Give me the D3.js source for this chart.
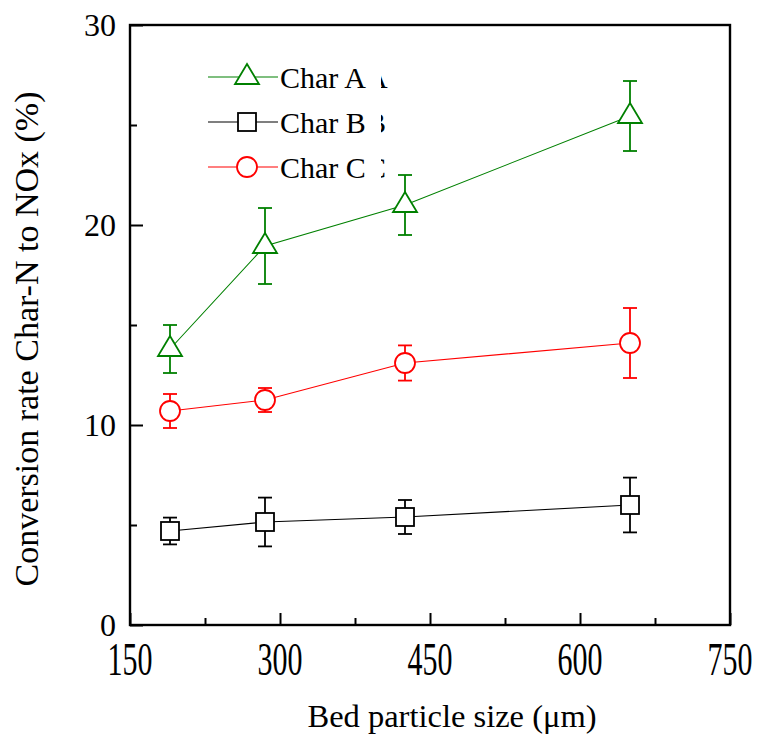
<!DOCTYPE html>
<html><head><meta charset="utf-8">
<script src="https://cdn.jsdelivr.net/npm/d3@7"></script>
<style>body{margin:0;background:#fff}</style>
</head><body>
<svg id="c" width="760" height="735" font-family="Liberation Serif"></svg>
<script>
const sizes = [190, 285, 425, 650];
const seriesNames = ["Char A", "Char B", "Char C"];
const charA = [13.8, 18.95, 21.0, 25.45];
const charAErr = [1.2, 1.9, 1.5, 1.75];
const charB = [4.7, 5.15, 5.4, 6.0];
const charBErr = [0.67, 1.22, 0.85, 1.37];
const charC = [10.7, 11.25, 13.1, 14.1];
const charCErr = [0.85, 0.6, 0.88, 1.75];
const xTicks = [150, 300, 450, 600, 750];
const xMinor = [225, 375, 525, 675];
const yTicks = [0, 10, 20, 30];
const yMinor = [5, 15, 25];

const svg = d3.select("#c");
const L = 130, R = 730, T = 25, B = 625;
const x = d3.scaleLinear().domain([150, 750]).range([L, R]);
const y = d3.scaleLinear().domain([0, 30]).range([B, T]);

const series = [
  {name: seriesNames[0], vals: charA, err: charAErr, color: "#008000", shape: "tri"},
  {name: seriesNames[1], vals: charB, err: charBErr, color: "#000000", shape: "sq"},
  {name: seriesNames[2], vals: charC, err: charCErr, color: "#ff0000", shape: "circ"}
];

function marker(g, shape, color) {
  if (shape === "tri") {
    g.append("path").attr("d", "M0,-13 L12,7 L-12,7 Z").attr("fill", "#fff").attr("stroke", color).attr("stroke-width", 1.8);
  } else if (shape === "sq") {
    g.append("rect").attr("x", -9).attr("y", -9).attr("width", 18).attr("height", 18).attr("fill", "#fff").attr("stroke", color).attr("stroke-width", 1.8);
  } else {
    g.append("circle").attr("r", 10).attr("fill", "#fff").attr("stroke", color).attr("stroke-width", 1.8);
  }
}

// axes
const axB = d3.axisBottom(x).tickValues(xTicks).tickSize(-12).tickFormat("");
const axBm = d3.axisBottom(x).tickValues(xMinor).tickSize(-7).tickFormat("");
const axL = d3.axisLeft(y).tickValues(yTicks).tickSize(-13).tickFormat("");
const axLm = d3.axisLeft(y).tickValues(yMinor).tickSize(-7).tickFormat("");
function styleAx(g){ g.selectAll("path").remove(); g.selectAll("line").attr("stroke","#000").attr("stroke-width",2); }
svg.append("g").attr("transform", `translate(0,${B})`).call(axB).call(styleAx);
svg.append("g").attr("transform", `translate(0,${B})`).call(axBm).call(styleAx);
svg.append("g").attr("transform", `translate(${L},0)`).call(axL).call(styleAx);
svg.append("g").attr("transform", `translate(${L},0)`).call(axLm).call(styleAx);

svg.append("rect").attr("x", L).attr("y", T).attr("width", R - L).attr("height", B - T)
  .attr("fill", "none").attr("stroke", "#000").attr("stroke-width", 2.4);

// tick labels (x labels are tall/condensed in the reference)
svg.selectAll(".xl").data(xTicks).enter().append("text")
  .attr("transform", d => `translate(${x(d)},675) scale(1,1.55)`).attr("text-anchor", "middle")
  .attr("font-size", 30).text(d => d);
svg.selectAll(".yl").data(yTicks).enter().append("text")
  .attr("x", 116).attr("y", d => y(d) + 10.5).attr("text-anchor", "end")
  .attr("font-size", 32).text(d => d);

// titles
svg.append("text").attr("x", 452).attr("y", 727).attr("text-anchor", "middle")
  .attr("font-size", 32.5).text("Bed particle size (\u03bcm)");
svg.append("text").attr("transform", "translate(38,339) rotate(-90)").attr("text-anchor", "middle")
  .attr("font-size", 34).text("Conversion rate Char-N to NOx (%)");

// series
const line = d3.line().x(d => x(d[0])).y(d => y(d[1]));
series.forEach(s => {
  const pts = sizes.map((v, i) => [v, s.vals[i], s.err[i]]);
  svg.append("path").attr("d", line(pts)).attr("fill", "none").attr("stroke", s.color).attr("stroke-width", 1.1);
  const g = svg.append("g");
  pts.forEach(p => {
    const cx = x(p[0]);
    g.append("line").attr("x1", cx).attr("x2", cx).attr("y1", y(p[1] + p[2])).attr("y2", y(p[1] - p[2]))
      .attr("stroke", s.color).attr("stroke-width", 1.8);
    [p[1] + p[2], p[1] - p[2]].forEach(e => {
      g.append("line").attr("x1", cx - 7).attr("x2", cx + 7).attr("y1", y(e)).attr("y2", y(e))
        .attr("stroke", s.color).attr("stroke-width", 1.8);
    });
    marker(g.append("g").attr("transform", `translate(${cx},${y(p[1])})`), s.shape, s.color);
  });
});

// legend
const legY = [77, 122, 167];
svg.append("clipPath").attr("id", "lc").append("rect").attr("x", 381).attr("y", 40).attr("width", 8).attr("height", 160);
series.forEach((s, i) => {
  const ly = legY[i];
  svg.append("line").attr("x1", 208).attr("x2", 278).attr("y1", ly).attr("y2", ly).attr("stroke", s.color).attr("stroke-width", 1.1);
  marker(svg.append("g").attr("transform", `translate(247,${ly})`), s.shape, s.color);
  svg.append("text").attr("x", 280).attr("y", ly + 11).attr("font-size", 30).text(s.name);
  svg.append("text").attr("x", 366).attr("y", ly + 11).attr("font-size", 30).attr("clip-path", "url(#lc)").text(s.name.slice(-1));
});
</script>
</body></html>
